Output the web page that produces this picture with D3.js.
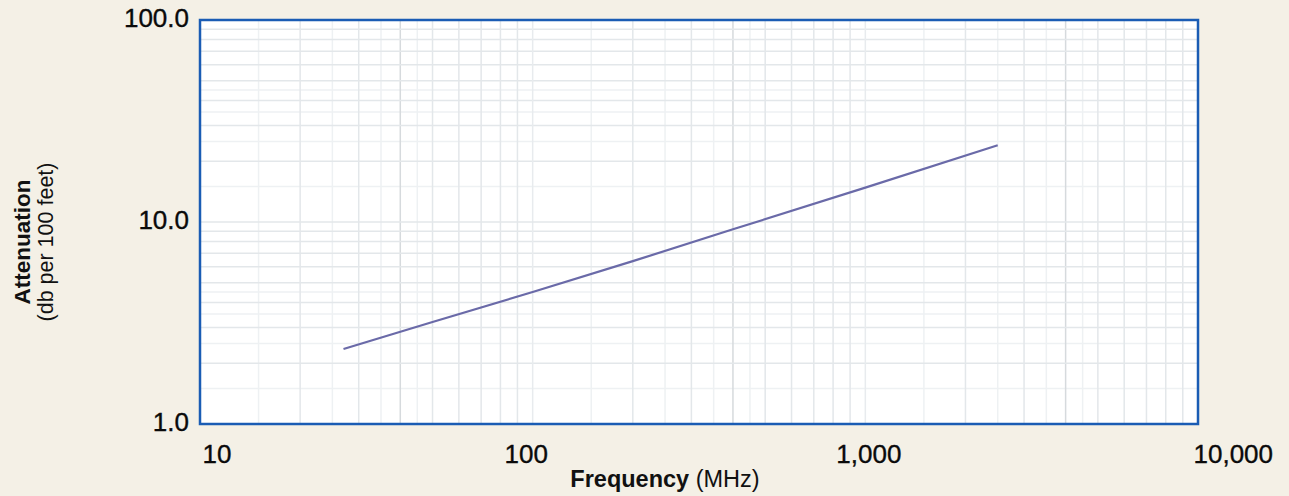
<!DOCTYPE html>
<html>
<head>
<meta charset="utf-8">
<script src="https://cdn.jsdelivr.net/npm/d3@7"></script>
<style>
  html, body { margin: 0; padding: 0; background: #f4f0e6; }
  svg { display: block; font-family: "Liberation Sans", Arial, Helvetica, sans-serif; }
</style>
</head>
<body>
<svg id="chart" width="1289" height="496"></svg>
<script>
// ---- data ----
const freqMHz = [27, 50, 100, 200, 400, 1000, 2500];
const attenuation = [2.35, 3.2, 4.5, 6.4, 9.2, 14.8, 24.0];
const xTickValues = [10, 100, 1000, 10000];
const xTickLabels = ["10", "100", "1,000", "10,000"];
const yTickValues = [1, 10, 100];
const yTickLabels = ["1.0", "10.0", "100.0"];
const xTitleBold = "Frequency";
const xTitleRest = " (MHz)";
const yTitleBold = "Attenuation";
const yTitleRest = "(db per 100 feet)";

// ---- layout ----
const W = 1289, H = 496;
const plot = { left: 200, right: 1198, top: 20, bottom: 424 };

const svg = d3.select("#chart");
svg.append("rect").attr("width", W).attr("height", H).attr("fill", "#f4f0e6");

const x = d3.scaleLog().domain([10, 10000]).range([plot.left, plot.right]);
const y = d3.scaleLog().domain([1, 100]).range([plot.bottom, plot.top]);

// plot background
svg.append("rect")
  .attr("x", plot.left).attr("y", plot.top)
  .attr("width", plot.right - plot.left).attr("height", plot.bottom - plot.top)
  .attr("fill", "#ffffff");

// grid
const grid = svg.append("g");
function minorVals(domain, steps) {
  const out = [];
  for (let d = domain[0]; d < domain[1]; d *= 10) {
    steps.forEach(s => out.push(d * s));
  }
  return out;
}
const mainSteps = [2, 3, 4, 5, 6, 7, 8, 9];
const halfSteps = [1.5, 2.5, 3.5, 4.5];
grid.selectAll("line.xh").data(minorVals([10, 10000], halfSteps)).enter().append("line")
  .attr("x1", d => x(d)).attr("x2", d => x(d))
  .attr("y1", plot.top).attr("y2", plot.bottom)
  .attr("stroke", "#eef1f3").attr("stroke-width", 1.5);
grid.selectAll("line.yh").data(minorVals([1, 100], halfSteps)).enter().append("line")
  .attr("y1", d => y(d)).attr("y2", d => y(d))
  .attr("x1", plot.left).attr("x2", plot.right)
  .attr("stroke", "#eef1f3").attr("stroke-width", 1.5);
grid.selectAll("line.xm").data(minorVals([10, 10000], mainSteps)).enter().append("line")
  .attr("x1", d => x(d)).attr("x2", d => x(d))
  .attr("y1", plot.top).attr("y2", plot.bottom)
  .attr("stroke", (d, i) => (i % 8 === 2 ? "#d6dadd" : "#e3e7ea")).attr("stroke-width", 1.5);
grid.selectAll("line.ym").data(minorVals([1, 100], mainSteps)).enter().append("line")
  .attr("y1", d => y(d)).attr("y2", d => y(d))
  .attr("x1", plot.left).attr("x2", plot.right)
  .attr("stroke", "#e3e7ea").attr("stroke-width", 1.5);
grid.selectAll("line.xd").data(xTickValues.slice(1, -1)).enter().append("line")
  .attr("x1", d => x(d)).attr("x2", d => x(d))
  .attr("y1", plot.top).attr("y2", plot.bottom)
  .attr("stroke", "#e8ebee").attr("stroke-width", 1.5);
grid.selectAll("line.yd").data(yTickValues.slice(1, -1)).enter().append("line")
  .attr("y1", d => y(d)).attr("y2", d => y(d))
  .attr("x1", plot.left).attr("x2", plot.right)
  .attr("stroke", "#e3e7ea").attr("stroke-width", 1.5);

// data line
const pts = freqMHz.map((f, i) => [f, attenuation[i]]);
svg.append("path")
  .datum(pts)
  .attr("d", d3.line().x(d => x(d[0])).y(d => y(d[1])))
  .attr("fill", "none")
  .attr("stroke", "#6a6aa8")
  .attr("stroke-width", 2.2);

// border
svg.append("rect")
  .attr("x", plot.left).attr("y", plot.top)
  .attr("width", plot.right - plot.left).attr("height", plot.bottom - plot.top)
  .attr("fill", "none").attr("stroke", "#1a5cb4").attr("stroke-width", 2.5);

// x tick labels
const xAxis = d3.axisBottom(x).tickValues(xTickValues)
  .tickFormat((d, i) => xTickLabels[i]).tickSize(0).tickPadding(0);
const gx = svg.append("g").attr("transform", `translate(0,${plot.bottom})`).call(xAxis);
gx.select(".domain").remove();
gx.selectAll("text")
  .attr("y", 0).attr("dy", 39)
  .attr("font-size", 26).attr("fill", "#0a0a0a")
  .attr("stroke", "#0a0a0a").attr("stroke-width", 0.35)
  .attr("font-family", "'Liberation Sans', Arial, sans-serif")
  .attr("text-anchor", (d, i) => (i === 0 || i === xTickValues.length - 1) ? "start" : "middle")
  .attr("dx", (d, i) => i === 0 ? 2 : (i === xTickValues.length - 1 ? -5 : (i === 1 ? -7 : 3)));

// y tick labels
const yAxis = d3.axisLeft(y).tickValues(yTickValues)
  .tickFormat((d, i) => yTickLabels[i]).tickSize(0).tickPadding(0);
const gy = svg.append("g").attr("transform", `translate(${plot.left},0)`).call(yAxis);
gy.select(".domain").remove();
gy.selectAll("text")
  .attr("x", -11).attr("dy", 0)
  .attr("transform", "translate(0,6)")
  .attr("font-size", 26).attr("fill", "#0a0a0a")
  .attr("stroke", "#0a0a0a").attr("stroke-width", 0.35)
  .attr("font-family", "'Liberation Sans', Arial, sans-serif")
  .attr("text-anchor", "end");

// x title
const xt = svg.append("text")
  .attr("x", 665).attr("y", 487)
  .attr("text-anchor", "middle").attr("font-size", 23.5).attr("fill", "#111");
xt.append("tspan").attr("font-weight", "bold").text(xTitleBold);
xt.append("tspan").text(xTitleRest);

// y title
const yMid = 242;
svg.append("text")
  .attr("transform", `translate(30,${yMid}) rotate(-90)`)
  .attr("text-anchor", "middle").attr("font-size", 22.5).attr("font-weight", "bold").attr("fill", "#111")
  .text(yTitleBold);
svg.append("text")
  .attr("transform", `translate(53,${yMid}) rotate(-90)`)
  .attr("text-anchor", "middle").attr("font-size", 21.5).attr("fill", "#111")
  .text(yTitleRest);
</script>
</body>
</html>
